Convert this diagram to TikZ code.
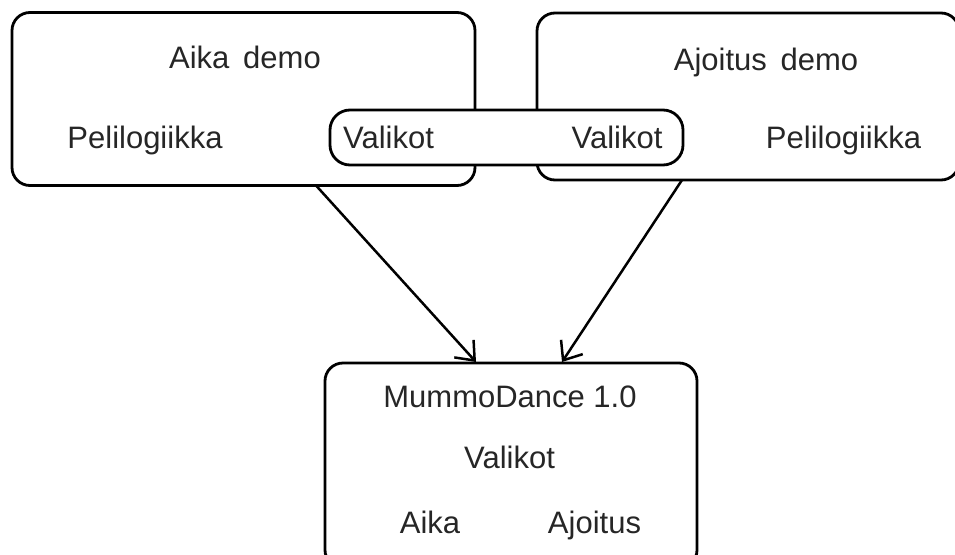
\documentclass[tikz,border=0pt]{standalone}
\usepackage{fontspec}
\setmainfont{Liberation Sans}
\usetikzlibrary{arrows.meta}

\begin{document}
\begin{tikzpicture}[x=1pt,y=-1pt,
    every node/.style={font=\fontsize{31}{36}\selectfont, text=black!85, anchor=base},
    box/.style={draw, line width=2.8pt, rounded corners=18pt, minimum width=#1, anchor=center},
    >={Straight Barb[length=16pt,width=26pt]}]
      \clip (0,0) rectangle (955,554);

      % the three boxes and the shared menu
      \node[box=463pt, minimum height=173pt] (aika) at (243.5,99) {};
      \node[box=422pt, minimum height=167pt] (ajoitus) at (748,96.5) {};
      \node[box=353pt, minimum height=55pt, fill=white, rounded corners=20pt] (valikot) at (506.5,137.5) {};
      \node[box=372pt, minimum height=205pt] (mummo) at (511,465.5) {};

      \node (aikaT) at (245,68) {Aika\, demo};
      \node (aikaP) at (145,148) {Pelilogiikka};
      \node (aikaV) at (388.5,148) {Valikot};
      \node (ajoT) at (766,70) {Ajoitus\, demo};
      \node (ajoV) at (617,148) {Valikot};
      \node (ajoP) at (843.5,148) {Pelilogiikka};
      \node (mumT) at (510,407) {MummoDance 1.0};
      \node (mumV) at (509.5,468) {Valikot};
      \node (mumA) at (430,533) {Aika};
      \node (mumJ) at (594.5,533) {Ajoitus};

      \coordinate (a1) at (316,185.5);
      \coordinate (a2) at (476,362);
      \coordinate (b1) at (682,180);
      \coordinate (b2) at (562,362);

      \draw[->, line width=2.5pt] (a1) -- (a2);
      \draw[->, line width=2.5pt] (b1) -- (b2);
    \end{tikzpicture}
\end{document}
